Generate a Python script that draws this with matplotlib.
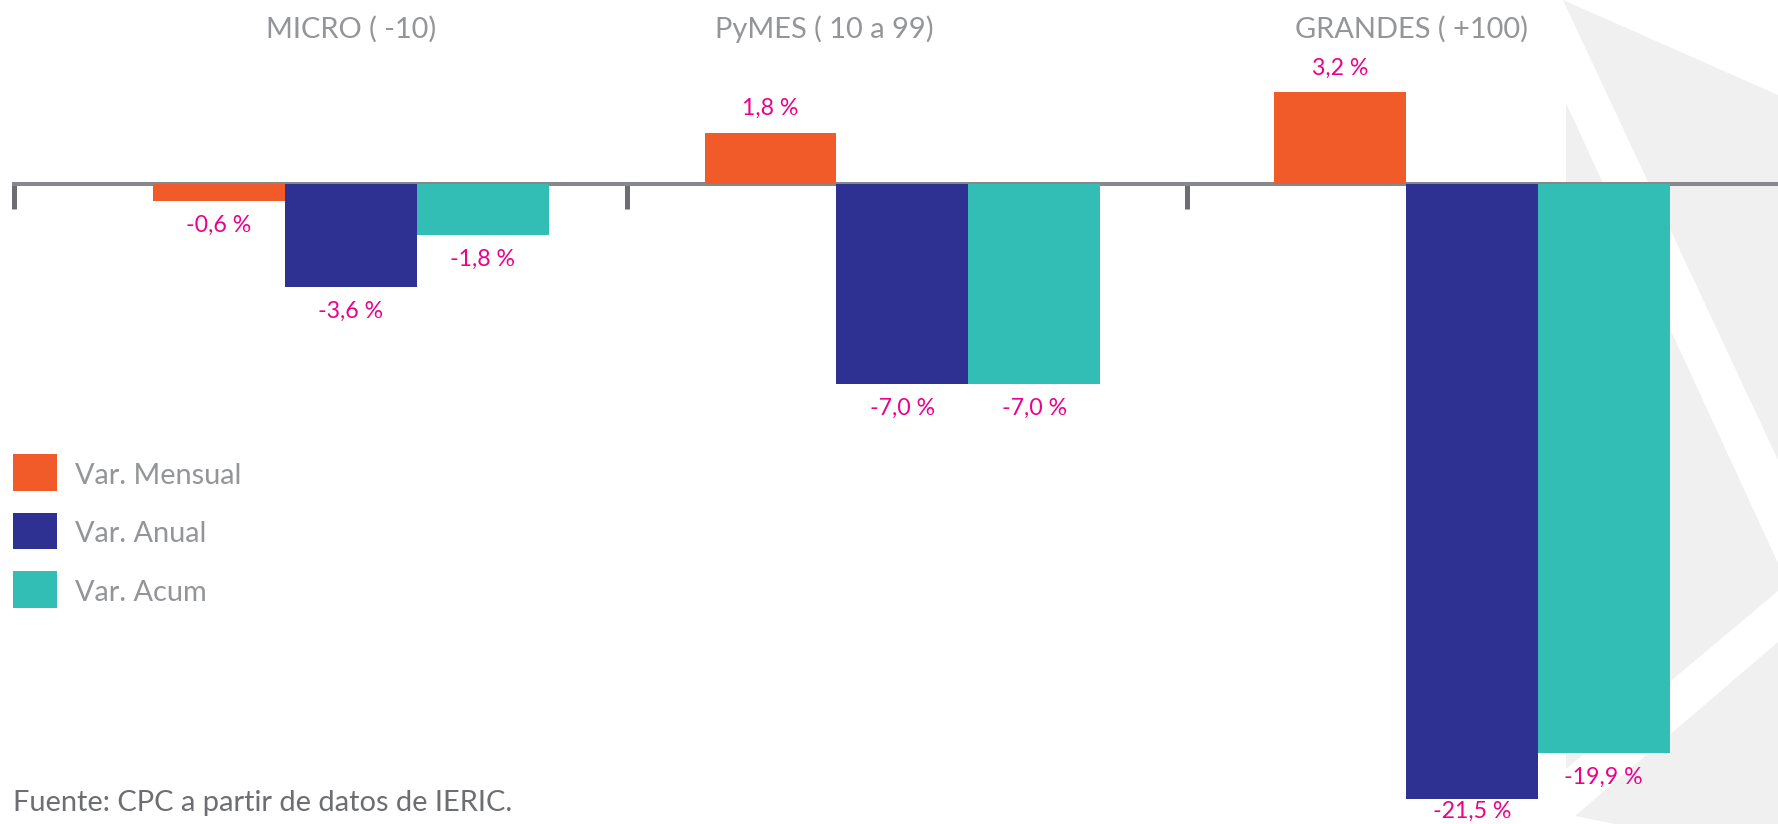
import numpy as np
import matplotlib
matplotlib.use('Agg')
from matplotlib import pyplot as plt
from matplotlib.patches import Polygon, Rectangle

plt.rcParams['font.family'] = ['Lato', 'DejaVu Sans']

groups = ['MICRO ( -10)', 'PyMES ( 10 a 99)', 'GRANDES ( +100)']
series = ['Var. Mensual', 'Var. Anual', 'Var. Acum']
mensual = [-0.6, 1.8, 3.2]
anual = [-3.6, -7.0, -21.5]
acum = [-1.8, -7.0, -19.9]
colors = ['#F15A29', '#2E3192', '#32BEB5']

W, H = 1778, 824
fig = plt.figure(figsize=(W / 100, H / 100), dpi=100)

# background decoration + legend + source, in pixel coords
bg = fig.add_axes([0, 0, 1, 1])
bg.set_xlim(0, W)
bg.set_ylim(H, 0)
bg.axis('off')
shapes = [
    [(1563, 0), (1778, 95), (1778, 460)],
    [(1566, 103), (1778, 563), (1778, 591), (1566, 769)],
    [(1575, 816), (1778, 642), (1778, 824), (1615, 824)],
]
for pts in shapes:
    bg.add_patch(Polygon(pts, closed=True, facecolor='#F0F0F0', edgecolor='none'))

for i, (name, c) in enumerate(zip(series, colors)):
    y0 = 454 + i * 58.5
    bg.add_patch(Rectangle((13, y0), 44, 36.7, facecolor=c, edgecolor='none'))
    bg.text(75, y0 + 22, name, fontsize=20.8, color='#939598', va='center', ha='left')

bg.text(13, 803, 'Fuente: CPC a partir de datos de IERIC.', fontsize=20.9,
        color='#6D6E71', va='center', ha='left')

# main chart
ax = fig.add_axes([0, 0, 1, 1])
ax.patch.set_alpha(0)
px_per_unit = 28.6
zero_px = 184
ax.set_ylim(-(H - zero_px) / px_per_unit, zero_px / px_per_unit)
ax.set_xlim(-0.6263, 2.5464)

group_pos = np.array([0, 0.984, 2.0])
bar_w = 0.2354
off = 24 / px_per_unit
for i, (vals, c) in enumerate(zip([mensual, anual, acum], colors)):
    x = group_pos + (i - 1) * bar_w
    ax.bar(x, vals, width=bar_w, color=c, zorder=3)
    for xi, v in zip(x, vals):
        ty = v + off if v > 0 else max(v - off, -21.95)
        lab = f'{v:.1f} %'.replace('.', ',')
        ax.text(xi, ty, lab, fontsize=16.7, color='#EC008C', ha='center', va='center')

title_x = [0, 0.844, 1.893]
for tx, g in zip(title_x, groups):
    ax.text(tx, (zero_px - 29) / px_per_unit, g, fontsize=20.9, color='#939598',
            ha='center', va='center')

for s in ['top', 'right', 'left']:
    ax.spines[s].set_visible(False)
ax.spines['bottom'].set_position(('data', 0))
ax.spines['bottom'].set_bounds(-0.602, 2.5464)
ax.spines['bottom'].set_linewidth(2.9)
ax.spines['bottom'].set_color('#87888B')
ax.spines['bottom'].set_zorder(2)
ax.set_xticks([-0.602, 0.492, 1.492])
ax.set_xticklabels([])
ax.set_yticks([])
ax.tick_params(axis='x', direction='out', length=18, width=3.6, color='#6D6E71')

fig.savefig('out.png', dpi=100)
